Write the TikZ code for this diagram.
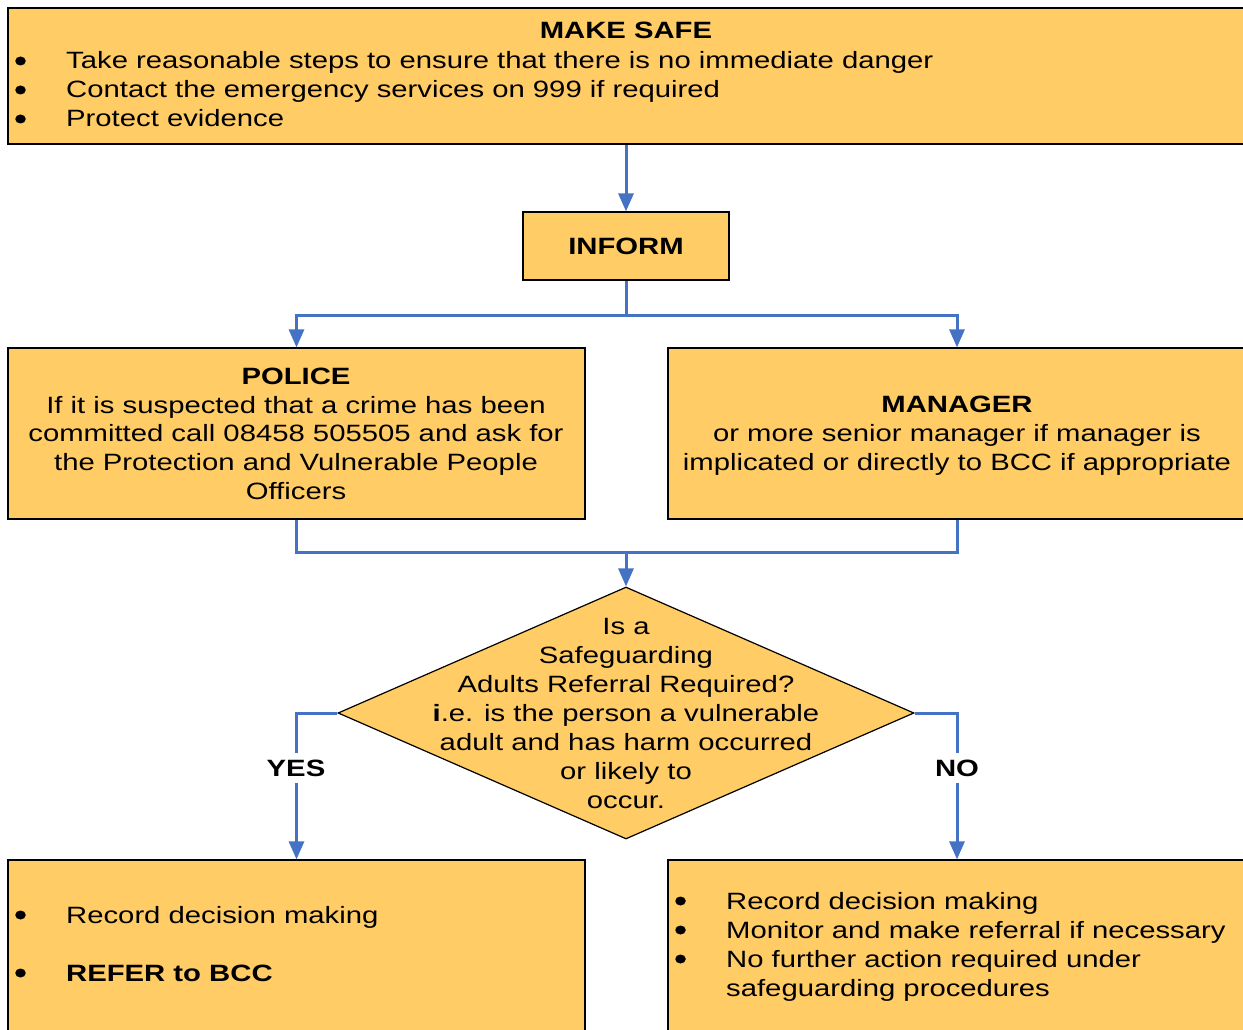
\documentclass[tikz,border=0pt]{standalone}
\usepackage{fontspec}
\setmainfont{Liberation Sans}[FakeStretch=1.24]
\usetikzlibrary{arrows.meta,shapes.geometric}
\definecolor{boxfill}{HTML}{FFCC66}
\definecolor{connblue}{HTML}{4472C4}
\newcommand\fsz{\fontsize{23.6}{28}\selectfont}
\tikzset{
  box/.style={draw=black, line width=1.2pt, fill=boxfill, rectangle, inner sep=0pt},
  txt/.style={anchor=base, inner sep=0pt, font=\fsz},
  txtw/.style={anchor=base west, inner sep=0pt, font=\fsz},
  bul/.style={ellipse, fill=black, inner sep=0pt, minimum width=10.5pt, minimum height=9pt},
  conn/.style={draw=connblue, line width=3pt},
  arr/.style={conn, -{Triangle[width=15pt,length=18pt]}},
  lbl/.style={fill=white, inner xsep=2pt, inner ysep=0pt, minimum height=30pt, font=\fsz\bfseries}
}
\begin{document}
\begin{tikzpicture}[x=1pt,y=-1pt]
\useasboundingbox (0,0) rectangle (1243,1030);
\clip (0,0) rectangle (1243,1030);
\fill[white] (0,0) rectangle (1243,1030);
% boxes
\node[box, minimum width=1236pt, minimum height=136pt] (ms) at (626,76) {};
\node[box, minimum width=206pt, minimum height=68pt] (inf) at (626,246) {};
\node[box, minimum width=577pt, minimum height=171pt] (pol) at (296.5,433.5) {};
\node[box, minimum width=578pt, minimum height=171pt] (man) at (957,433.5) {};
\node[box, diamond, minimum width=576pt, minimum height=252pt] (dia) at (626,713) {};
\node[box, minimum width=577pt, minimum height=200pt] (yesb) at (296.5,960) {};
\node[box, minimum width=578pt, minimum height=200pt] (nob) at (957,960) {};
% connectors
\coordinate (j1) at (626,315);
\coordinate (j2) at (626,552);
\draw[arr] (ms.south -| inf.north) -- (inf.north);
\draw[conn] (inf.south) -- (j1);
\draw[arr] (j1) -| (pol.north);
\draw[arr] (j1) -| (man.north);
\draw[conn] (pol.south) |- (j2) -| (man.south);
\draw[arr] (j2) -- (dia.north);
\draw[arr] (dia.west) -| (yesb.north);
\draw[arr] (dia.east) -| (nob.north);
\node[lbl] (yes) at (296,768) {YES};
\node[lbl] (no) at (957,768) {NO};
% MAKE SAFE text
\node[txt, font=\fsz\bfseries] (mst) at (626,39) {MAKE SAFE};
\node[bul] (msb1) at (20.5,61) {};
\node[bul] (msb2) at (20.5,90) {};
\node[bul] (msb3) at (20.5,119) {};
\node[txtw] (ms1) at (66,69) {Take reasonable steps to ensure that there is no immediate danger};
\node[txtw] (ms2) at (66,98) {Contact the emergency services on 999 if required};
\node[txtw] (ms3) at (66,127) {Protect evidence};
% INFORM
\node[txt, font=\fsz\bfseries] (inft) at (626,254) {INFORM};
% POLICE
\node[txt, font=\fsz\bfseries] (polt) at (296,384) {POLICE};
\node[txt] (pol1) at (296,413) {If it is suspected that a crime has been};
\node[txt] (pol2) at (296,441.5) {committed call 08458 505505 and ask for};
\node[txt] (pol3) at (296,470) {the Protection and Vulnerable People};
\node[txt] (pol4) at (296,499) {Officers};
% MANAGER
\node[txt, font=\fsz\bfseries] (mant) at (957,412) {MANAGER};
\node[txt] (man1) at (957,441) {or more senior manager if manager is};
\node[txt] (man2) at (957,470) {implicated or directly to BCC if appropriate};
% diamond text
\node[txt] (d1) at (626,634) {Is a};
\node[txt] (d2) at (626,663) {Safeguarding};
\node[txt] (d3) at (626,692) {Adults Referral Required?};
\node[txt] (d4) at (626,721) {\textbf{i}.e. is the person a vulnerable};
\node[txt] (d5) at (626,750) {adult and has harm occurred};
\node[txt] (d6) at (626,779) {or likely to};
\node[txt] (d7) at (626,808) {occur.};
% YES box
\node[bul] (yb1) at (20.5,915) {};
\node[bul] (yb2) at (20.5,973) {};
\node[txtw] (y1) at (66,923) {Record decision making};
\node[txtw, font=\fsz\bfseries] (y2) at (66,981) {REFER to BCC};
% NO box
\node[bul] (nb1) at (680.5,901) {};
\node[bul] (nb2) at (680.5,930) {};
\node[bul] (nb3) at (680.5,959) {};
\node[txtw] (n1) at (726,909) {Record decision making};
\node[txtw] (n2) at (726,938) {Monitor and make referral if necessary};
\node[txtw] (n3) at (726,967) {No further action required under};
\node[txtw] (n4) at (726,996) {safeguarding procedures};
\end{tikzpicture}
\end{document}
